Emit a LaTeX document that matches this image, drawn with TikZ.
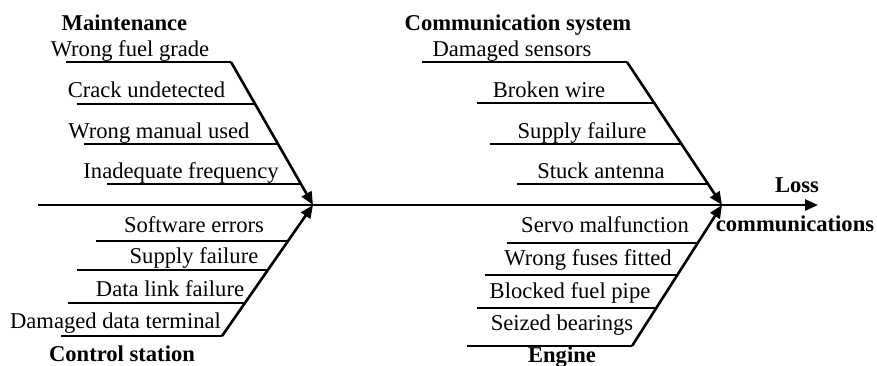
\documentclass[tikz,border=0pt]{standalone}
\usepackage{fontspec}
\setmainfont{Liberation Serif}
\usetikzlibrary{arrows.meta}
\begin{document}
\begin{tikzpicture}[x=0.5pt,y=-0.5pt,
  lbl/.style={anchor=base,inner sep=0pt,font=\fontsize{11.3}{13}\selectfont},
  head/.style={anchor=base,inner sep=0pt,font=\fontsize{11.3}{13}\selectfont\bfseries},
  rib/.style={line width=0.8pt},
  bone/.style={line width=1.3pt,-{Triangle[length=6.5pt,width=5.5pt]}}]
\useasboundingbox (0,0) rectangle (877,365);
% spine and joints
\coordinate (S0) at (38,205);
\coordinate (H) at (818,205);
\coordinate (J1) at (313,205);
\coordinate (J2) at (722,205);
\coordinate (MT) at (231,62);
\coordinate (CB) at (222,336);
\coordinate (CT) at (627,62);
\coordinate (EB) at (632,346);
% rib coordinates
\coordinate (m1a) at (66,62);   \coordinate (m1b) at (231,62);
\coordinate (m2a) at (77,104);  \coordinate (m2b) at (255,104);
\coordinate (m3a) at (84,144);  \coordinate (m3b) at (278,144);
\coordinate (m4a) at (107,184); \coordinate (m4b) at (301,184);
\coordinate (c1a) at (96,241);  \coordinate (c1b) at (288,241);
\coordinate (c2a) at (77,270);  \coordinate (c2b) at (268,270);
\coordinate (c3a) at (68,303);  \coordinate (c3b) at (245,303);
\coordinate (c4a) at (61,336);  \coordinate (c4b) at (222,336);
\coordinate (k1a) at (422,62);  \coordinate (k1b) at (627,62);
\coordinate (k2a) at (477,103); \coordinate (k2b) at (654,103);
\coordinate (k3a) at (490,144); \coordinate (k3b) at (681,144);
\coordinate (k4a) at (517,184); \coordinate (k4b) at (708,184);
\coordinate (e1a) at (507,243); \coordinate (e1b) at (698,243);
\coordinate (e2a) at (485,275); \coordinate (e2b) at (677,275);
\coordinate (e3a) at (477,308); \coordinate (e3b) at (656,308);
\coordinate (e4a) at (467,346); \coordinate (e4b) at (632,346);
% bones
\draw[bone] (S0) -- (H);
\draw[bone] (MT) -- (J1);
\draw[bone] (CB) -- (J1);
\draw[bone] (CT) -- (J2);
\draw[bone] (EB) -- (J2);
% ribs
\foreach \r in {m1,m2,m3,m4,c1,c2,c3,c4,k1,k2,k3,k4,e1,e2,e3,e4}
  \draw[rib] (\r a) -- (\r b);
% labels
\node[head] (hm) at (124.5,30) {Maintenance};
\node[lbl] (tm1) at (130,56) {Wrong fuel grade};
\node[lbl] (tm2) at (146.5,97) {Crack undetected};
\node[lbl] (tm3) at (159,138) {Wrong manual used};
\node[lbl] (tm4) at (181,178) {Inadequate frequency};
\node[lbl] (tc1) at (194,232) {Software errors};
\node[lbl] (tc2) at (194,263) {Supply failure};
\node[lbl] (tc3) at (170,296) {Data link failure};
\node[lbl] (tc4) at (115.5,328) {Damaged data terminal};
\node[head] (hc) at (122,361) {Control station};
\node[head] (hk) at (518,30) {Communication system};
\node[lbl] (tk1) at (512,56) {Damaged sensors};
\node[lbl] (tk2) at (549,97) {Broken wire};
\node[lbl] (tk3) at (582,138) {Supply failure};
\node[lbl] (tk4) at (601,178) {Stuck antenna};
\node[head] (hl1) at (797,192) {Loss};
\node[head] (hl2) at (795,231) {communications};
\node[lbl] (te1) at (605,232) {Servo malfunction};
\node[lbl] (te2) at (588,265) {Wrong fuses fitted};
\node[lbl] (te3) at (570,298) {Blocked fuel pipe};
\node[lbl] (te4) at (562,330) {Seized bearings};
\node[head] (he) at (562,362) {Engine};
\end{tikzpicture}
\end{document}
